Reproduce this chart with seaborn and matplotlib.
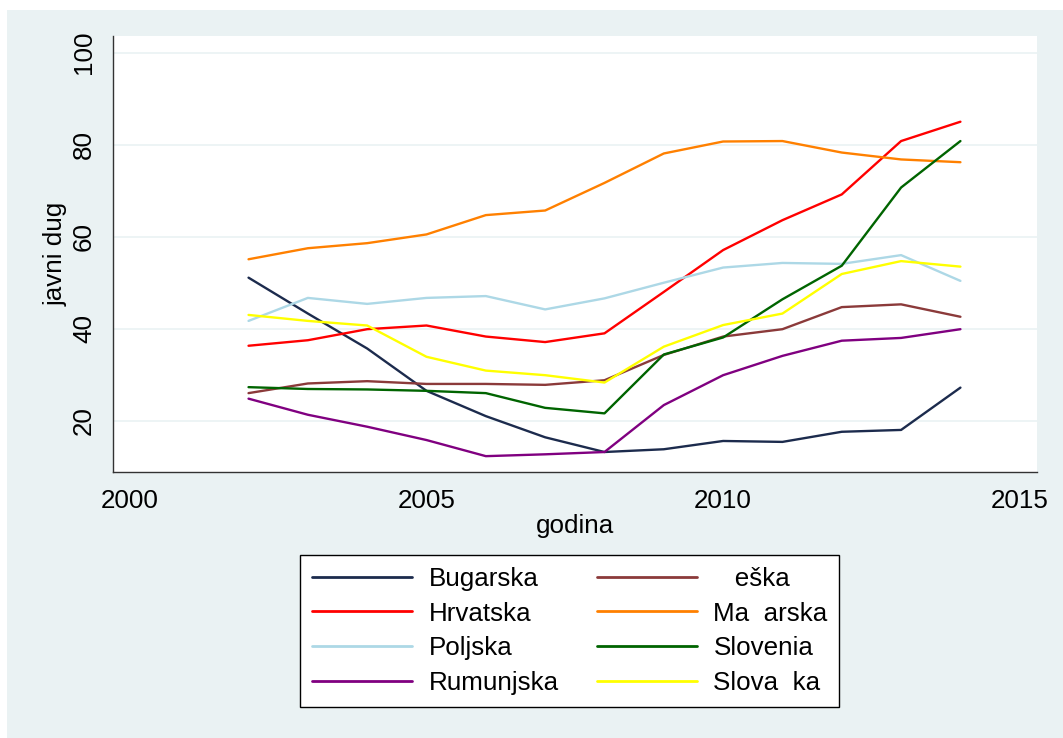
import numpy as np
import pandas as pd
import matplotlib
matplotlib.use('Agg')
import matplotlib.pyplot as plt
from matplotlib.patches import Rectangle
import seaborn as sns

years = list(range(2002, 2015))

bugarska = [51.1, 43.3, 35.7, 26.5, 21.0, 16.4, 13.2, 13.8, 15.6, 15.4, 17.6, 18.0, 27.2]
ceska = [26.0, 28.1, 28.6, 28.0, 28.0, 27.8, 28.8, 34.3, 38.3, 39.9, 44.7, 45.3, 42.6]
hrvatska = [36.3, 37.5, 39.9, 40.7, 38.3, 37.1, 39.0, 48.0, 57.1, 63.6, 69.2, 80.8, 85.0]
madarska = [55.1, 57.5, 58.6, 60.5, 64.7, 65.7, 71.7, 78.1, 80.7, 80.8, 78.3, 76.8, 76.2]
poljska = [41.7, 46.7, 45.4, 46.7, 47.1, 44.2, 46.6, 50.0, 53.3, 54.3, 54.1, 56.0, 50.4]
slovenia = [27.3, 26.9, 26.8, 26.5, 26.0, 22.8, 21.6, 34.4, 38.1, 46.4, 53.7, 70.7, 80.8]
rumunjska = [24.8, 21.3, 18.7, 15.8, 12.3, 12.7, 13.2, 23.4, 29.9, 34.1, 37.4, 38.0, 39.9]
slovacka = [43.0, 41.7, 40.7, 33.9, 30.9, 29.9, 28.3, 36.1, 40.8, 43.3, 51.9, 54.7, 53.5]

# labels as rendered in the source (missing glyphs show as gaps)
countries = ['Bugarska', '   eška', 'Hrvatska', 'Ma  arska',
             'Poljska', 'Slovenia', 'Rumunjska', 'Slova  ka']
series = [bugarska, ceska, hrvatska, madarska, poljska, slovenia, rumunjska, slovacka]
colors = ['#1c2b4d', '#8b3a3a', '#ff0000', '#ff8000',
          '#add8e6', '#006400', '#800080', '#ffff00']

rows = []
for name, vals in zip(countries, series):
    for y, v in zip(years, vals):
        rows.append({'godina': y, 'javni dug': v, 'zemlja': name})
df = pd.DataFrame(rows)

sns.set_style('white')
plt.rcParams['font.family'] = ['Liberation Sans', 'DejaVu Sans']

fs = 18.7
bg = '#eaf2f3'
fig = plt.figure(figsize=(10.63, 7.38), dpi=100)
fig.patch.set_facecolor('white')
fig.patches.append(Rectangle((7 / 1063, 0), 1 - 7 / 1063, 1 - 10 / 738,
                             transform=fig.transFigure, facecolor=bg,
                             edgecolor='none', zorder=-10))

ax = fig.add_axes([0.106, 0.3604, 0.8695, 0.5906])
ax.set_facecolor('white')

sns.lineplot(data=df, x='godina', y='javni dug', hue='zemlja',
             hue_order=countries, palette=dict(zip(countries, colors)),
             linewidth=1.7, ax=ax)

ax.set_xlim(1999.71, 2015.29)
ax.set_ylim(8.85, 103.6)
ax.set_xticks([2000, 2005, 2010, 2015])
ax.set_yticks([20, 40, 60, 80, 100])
ax.set_yticklabels(['20', '40', '60', '80', '100'], rotation=90, va='center')
ax.tick_params(axis='both', direction='out', length=7, width=1,
               color='#333333', labelsize=fs, labelcolor='black', pad=5)
ax.grid(axis='y', color=bg, linewidth=1.2)
ax.set_axisbelow(True)
for s in ['top', 'right']:
    ax.spines[s].set_visible(False)
for s in ['left', 'bottom']:
    ax.spines[s].set_color('#333333')
    ax.spines[s].set_linewidth(1)

ax.set_xlabel('godina', fontsize=fs, labelpad=1, color='black')
ax.set_ylabel('javni dug', fontsize=fs, labelpad=3, color='black')

handles, labels = ax.get_legend_handles_labels()
ax.get_legend().remove()
order = [0, 2, 4, 6, 1, 3, 5, 7]
leg = fig.legend([handles[i] for i in order], [labels[i] for i in order],
                 ncol=2, loc='center', bbox_to_anchor=(0.536, 0.145),
                 fontsize=fs, frameon=True, fancybox=False, framealpha=1,
                 facecolor='white', edgecolor='black',
                 handlelength=3.85, handletextpad=0.65, columnspacing=1.45,
                 labelspacing=0.42, borderpad=0.45)
leg.get_frame().set_linewidth(1)
for t in leg.get_texts():
    t.set_color('black')
for h in leg.get_lines():
    h.set_linewidth(2)

fig.savefig('out.png', dpi=100, facecolor=fig.get_facecolor())
